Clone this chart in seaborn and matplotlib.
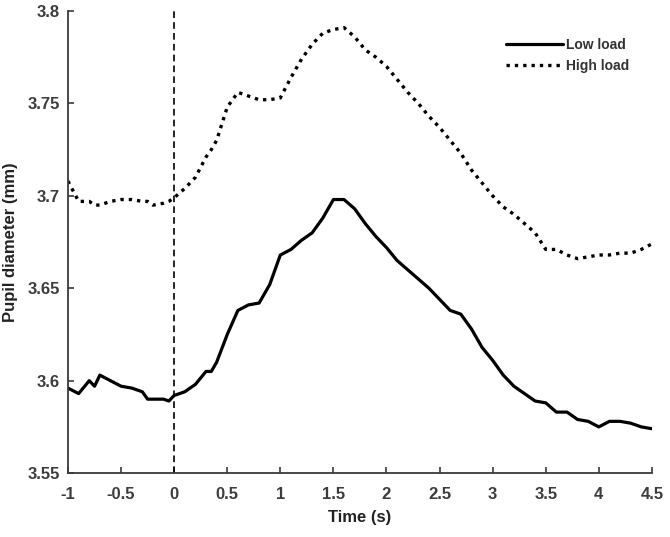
import matplotlib
matplotlib.use("Agg")
import matplotlib.pyplot as plt
import seaborn as sns
import pandas as pd

# Time axis (s)
time_s = [-1.0, -0.9, -0.8, -0.75, -0.7, -0.6, -0.5, -0.4, -0.3, -0.25, -0.2, -0.1, -0.05, 0.0,
          0.1, 0.2, 0.3, 0.35, 0.4, 0.5, 0.6, 0.7, 0.8, 0.9, 1.0, 1.1, 1.2, 1.3, 1.4, 1.5,
          1.6, 1.7, 1.8, 1.9, 2.0, 2.1, 2.2, 2.3, 2.4, 2.5, 2.6, 2.7, 2.8, 2.9, 3.0, 3.1,
          3.2, 3.3, 3.4, 3.5, 3.6, 3.7, 3.8, 3.9, 4.0, 4.1, 4.2, 4.3, 4.4, 4.5]

low_load = [3.596, 3.593, 3.600, 3.597, 3.603, 3.600, 3.597, 3.596, 3.594, 3.590, 3.590, 3.590, 3.589, 3.592,
            3.594, 3.598, 3.605, 3.605, 3.610, 3.625, 3.638, 3.641, 3.642, 3.652, 3.668, 3.671, 3.676, 3.680, 3.688, 3.698,
            3.698, 3.693, 3.685, 3.678, 3.672, 3.665, 3.660, 3.655, 3.650, 3.644, 3.638, 3.636, 3.628, 3.618, 3.611, 3.603,
            3.597, 3.593, 3.589, 3.588, 3.583, 3.583, 3.579, 3.578, 3.575, 3.578, 3.578, 3.577, 3.575, 3.574]

high_load = [3.708, 3.697, 3.697, 3.695, 3.695, 3.697, 3.698, 3.698, 3.697, 3.697, 3.695, 3.696, 3.697, 3.699,
             3.704, 3.710, 3.721, 3.725, 3.730, 3.748, 3.756, 3.754, 3.752, 3.752, 3.753, 3.764, 3.774, 3.782, 3.788, 3.790,
             3.791, 3.786, 3.779, 3.775, 3.770, 3.763, 3.756, 3.750, 3.743, 3.737, 3.730, 3.723, 3.714, 3.707, 3.700, 3.694,
             3.690, 3.685, 3.680, 3.671, 3.671, 3.668, 3.666, 3.667, 3.668, 3.668, 3.669, 3.669, 3.671, 3.674]

series_names = ["Low load", "High load"]
x_ticks = [-1, -0.5, 0, 0.5, 1, 1.5, 2, 2.5, 3, 3.5, 4, 4.5]
x_tick_labels = ["-1", "-0.5", "0", "0.5", "1", "1.5", "2", "2.5", "3", "3.5", "4", "4.5"]
y_ticks = [3.55, 3.6, 3.65, 3.7, 3.75, 3.8]
y_tick_labels = ["3.55", "3.6", "3.65", "3.7", "3.75", "3.8"]

sns.set_style("white")
plt.rcParams["font.family"] = ["Liberation Sans", "DejaVu Sans"]

fig = plt.figure(figsize=(6.7, 5.37), dpi=100)
ax = fig.add_axes([0.1015, 0.119, 0.8715, 0.8605])

df_low = pd.DataFrame({"t": time_s, "v": low_load})
df_high = pd.DataFrame({"t": time_s, "v": high_load})

sns.lineplot(data=df_low, x="t", y="v", ax=ax, color="black", linewidth=2.3,
             label=series_names[0])
sns.lineplot(data=df_high, x="t", y="v", ax=ax, color="black", linewidth=2.4,
             linestyle=(0, (1, 1.5)), label=series_names[1])

ax.axvline(0, color="black", linestyle=(0, (4, 2.5)), linewidth=1.2)

ax.set_xlim(-1, 4.5)
ax.set_ylim(3.55, 3.8)
ax.set_xticks(x_ticks)
ax.set_xticklabels(x_tick_labels)
ax.set_yticks(y_ticks)
ax.set_yticklabels(y_tick_labels)

for s in ["top", "right"]:
    ax.spines[s].set_visible(False)
for s in ["left", "bottom"]:
    ax.spines[s].set_color("#3a3a3a")
    ax.spines[s].set_linewidth(1.3)

ax.tick_params(axis="both", direction="in", length=4, width=1.2, colors="#3a3a3a",
               labelsize=12, labelcolor="#3c3c3c", left=True, bottom=True)
ax.tick_params(axis="x", pad=10)
ax.tick_params(axis="y", pad=6)
for lab in ax.get_xticklabels() + ax.get_yticklabels():
    lab.set_fontweight("bold")

ax.set_xlabel("Time (s)", fontsize=12, fontweight="bold", color="#222222", labelpad=6)
ax.set_ylabel("Pupil diameter (mm)", fontsize=12, fontweight="bold", color="#222222", labelpad=7)

leg = ax.legend(loc="upper left", bbox_to_anchor=(0.728, 0.968), frameon=False,
                prop={"size": 10, "weight": "bold"}, handlelength=4.1,
                handletextpad=0.25, labelspacing=0.45)
for txt in leg.get_texts():
    txt.set_color("#333333")

fig.savefig("out.png", dpi=100, facecolor="white")
